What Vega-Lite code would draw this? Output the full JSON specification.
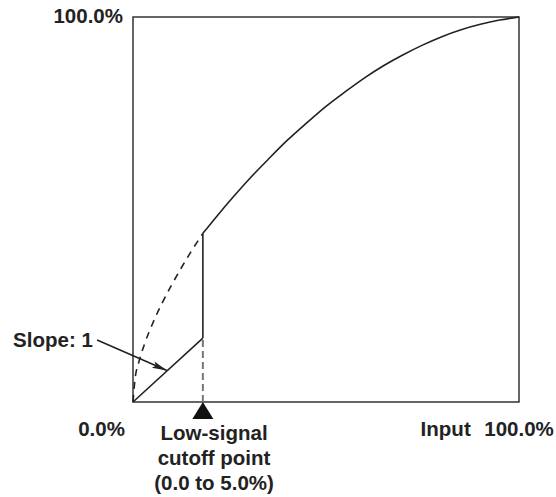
{
  "$schema": "https://vega.github.io/schema/vega-lite/v6.json",
  "width": 386,
  "height": 385,
  "autosize": {"type": "none"},
  "padding": {"left": 133, "top": 17, "right": 37, "bottom": 95},
  "config": {
    "view": {"stroke": "#333333", "strokeWidth": 1.5},
    "text": {"font": "Liberation Sans", "fontWeight": "bold", "fontSize": 20.5, "color": "#222222"}
  },
  "datasets": {
    "curve": [
      {"input": 0.181, "output": 0.438},
      {"input": 0.22, "output": 0.486},
      {"input": 0.26, "output": 0.533},
      {"input": 0.30, "output": 0.578},
      {"input": 0.35, "output": 0.630},
      {"input": 0.40, "output": 0.680},
      {"input": 0.45, "output": 0.725},
      {"input": 0.50, "output": 0.768},
      {"input": 0.55, "output": 0.806},
      {"input": 0.60, "output": 0.842},
      {"input": 0.65, "output": 0.874},
      {"input": 0.70, "output": 0.902},
      {"input": 0.75, "output": 0.927},
      {"input": 0.80, "output": 0.949},
      {"input": 0.85, "output": 0.967},
      {"input": 0.90, "output": 0.981},
      {"input": 0.95, "output": 0.992},
      {"input": 1.0, "output": 1.0}
    ],
    "dashcurve": [
      {"input": 0.0, "output": 0.0},
      {"input": 0.005, "output": 0.057},
      {"input": 0.015, "output": 0.103},
      {"input": 0.03, "output": 0.151},
      {"input": 0.05, "output": 0.202},
      {"input": 0.075, "output": 0.256},
      {"input": 0.1, "output": 0.304},
      {"input": 0.125, "output": 0.348},
      {"input": 0.15, "output": 0.390},
      {"input": 0.181, "output": 0.438}
    ],
    "segments": [
      {"seg": "slope", "input": 0.0, "output": 0.0},
      {"seg": "slope", "input": 0.181, "output": 0.166},
      {"seg": "jump", "input": 0.181, "output": 0.166},
      {"seg": "jump", "input": 0.181, "output": 0.438}
    ],
    "cutoff": [
      {"input": 0.181, "output": 0.0},
      {"input": 0.181, "output": 0.166}
    ],
    "arrow": [
      {"input": -0.093, "output": 0.161},
      {"input": 0.088, "output": 0.082}
    ],
    "arrowhead": [
      {"input": 0.088, "output": 0.082}
    ],
    "marker": [
      {"input": 0.181, "output": 0.0}
    ],
    "rightlabels": [
      {"input": -0.026, "output": 1.0, "label": "100.0%"},
      {"input": -0.021, "output": -0.073, "label": "0.0%"},
      {"input": -0.104, "output": 0.158, "label": "Slope: 1"}
    ],
    "centerlabels": [
      {"input": 0.81, "output": -0.073, "label": "Input"},
      {"input": 1.0, "output": -0.073, "label": "100.0%"},
      {"input": 0.21, "output": -0.083, "label": "Low-signal"},
      {"input": 0.21, "output": -0.148, "label": "cutoff point"},
      {"input": 0.21, "output": -0.212, "label": "(0.0 to 5.0%)"}
    ]
  },
  "encoding": {
    "x": {"field": "input", "type": "quantitative", "scale": {"domain": [0, 1], "nice": false, "zero": false}, "axis": null},
    "y": {"field": "output", "type": "quantitative", "scale": {"domain": [0, 1], "nice": false, "zero": false}, "axis": null}
  },
  "layer": [
    {
      "data": {"name": "cutoff"},
      "mark": {"type": "line", "color": "#777777", "strokeWidth": 2, "strokeDash": [7, 4]}
    },
    {
      "data": {"name": "curve"},
      "mark": {"type": "line", "color": "#222222", "strokeWidth": 1.6, "interpolate": "monotone"}
    },
    {
      "data": {"name": "dashcurve"},
      "mark": {"type": "line", "color": "#222222", "strokeWidth": 1.6, "interpolate": "monotone", "strokeDash": [7, 6]}
    },
    {
      "data": {"name": "segments"},
      "mark": {"type": "line", "color": "#222222", "strokeWidth": 1.6},
      "encoding": {"detail": {"field": "seg"}}
    },
    {
      "data": {"name": "arrow"},
      "mark": {"type": "line", "color": "#222222", "strokeWidth": 1.6}
    },
    {
      "data": {"name": "arrowhead"},
      "mark": {"type": "point", "shape": "M0,0L-0.45,2L0,1.6L0.45,2Z", "size": 225, "angle": 113, "filled": true, "color": "#222222", "opacity": 1}
    },
    {
      "data": {"name": "marker"},
      "mark": {"type": "point", "shape": "M0,0L-1.24,2L1.24,2Z", "size": 289, "filled": true, "color": "#111111", "opacity": 1}
    },
    {
      "data": {"name": "rightlabels"},
      "mark": {"type": "text", "align": "right", "baseline": "middle"},
      "encoding": {"text": {"field": "label"}}
    },
    {
      "data": {"name": "centerlabels"},
      "mark": {"type": "text", "align": "center", "baseline": "middle"},
      "encoding": {"text": {"field": "label"}}
    }
  ]
}
